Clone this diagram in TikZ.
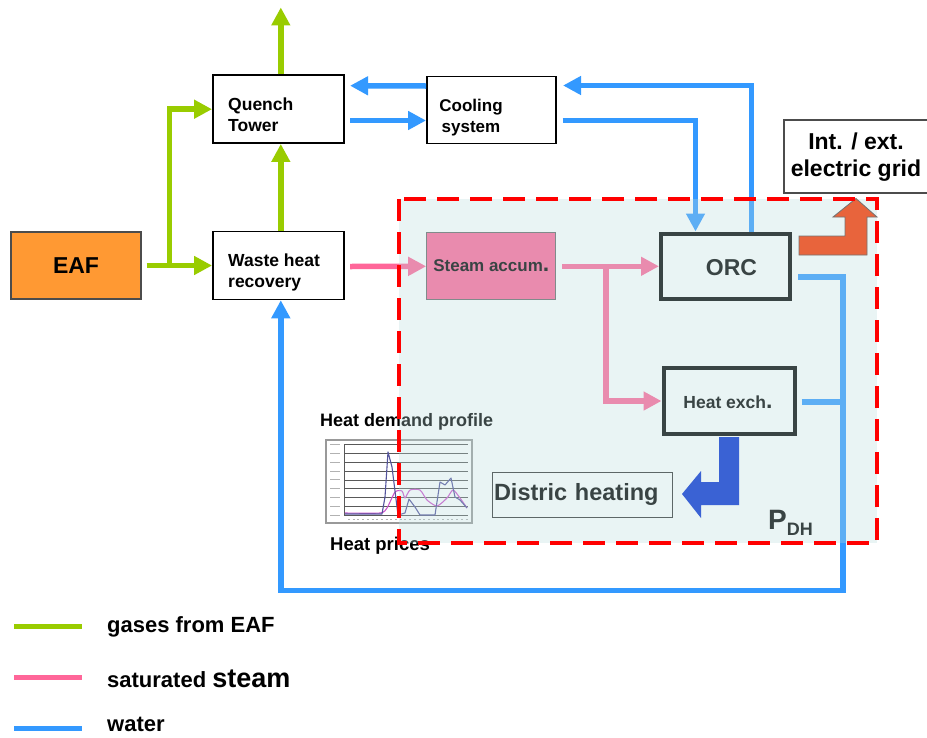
\documentclass[tikz,border=0pt]{standalone}
\usepackage{fontspec}
\setmainfont{Liberation Sans}
\usetikzlibrary{arrows.meta,calc}
\definecolor{grn}{HTML}{99CC00}
\definecolor{blu}{HTML}{3399FF}
\definecolor{pnk}{HTML}{FF6699}
\definecolor{eafc}{HTML}{FF9933}
\definecolor{ovl}{RGB}{187,222,222}
\definecolor{orng}{HTML}{E8643C}
\definecolor{dblu}{HTML}{3A62D4}
\definecolor{navyc}{HTML}{54549C}
\definecolor{magc}{HTML}{CC55CC}
\begin{document}
\begin{tikzpicture}[x=1pt,y=-1pt,
  box/.style={draw=black, line width=1.5pt, fill=white, minimum width=131pt, minimum height=68pt, inner sep=0pt},
  tbox/.style={draw=black, line width=4pt, minimum width=129pt, minimum height=65pt, inner sep=0pt},
  lbl/.style={inner sep=0pt, font=\bfseries\fontsize{17.5}{21}\selectfont, align=left},
  flowtip/.style={-{Triangle[length=18pt,width=18pt]}},
  gflow/.style={draw=grn, line width=5.5pt, flowtip},
  bflow/.style={draw=blu, line width=5.5pt, flowtip},
  bline/.style={draw=blu, line width=5.5pt},
  pflow/.style={draw=pnk, line width=5.5pt, flowtip},
  leg/.style={anchor=base west, inner sep=0pt, font=\bfseries\fontsize{22}{26}\selectfont},
]
\useasboundingbox (0,0) rectangle (927,737);
\fill[white] (0,0) rectangle (927,737);

% ---------- chart ----------
\fill[white] (326,440) rectangle (472,523);
\draw[black!40, line width=1.2pt] (326,440) rectangle (472,523);
\foreach \y in {444.3,453.2,462.1,471,479.9,488.8,497.7,506.6,515.5}{
  \draw[black!65, line width=0.7pt] (344,\y) -- (468,\y);
  \draw[black!30, line width=1pt] (330,\y) -- (340,\y);
}
\draw[black!65, line width=0.7pt] (344,444.3) -- (344,515.5);
\foreach \x in {348,352.7,...,466}{
  \draw[black!30, line width=1pt] (\x,519) -- (\x+2,519);
}
\draw[magc, line width=1.1pt, line join=round] plot[smooth, tension=0.4] coordinates {(345,513)(380,513)(387,508)(395,492)(402,491)(405,498)(410,490)(420,490)(427,500)(437,506)(447,498)(453,490)(460,498)(467,508)};
\draw[navyc, line width=1.1pt, line join=round] plot coordinates {(345,514)(382,514)(385,497)(388,452)(392,467)(398,515)(405,513)(409,499)(415,507)(420,515)(435,515)(440,482)(445,485)(451,478)(455,497)(460,500)(467,508)};
\node[anchor=base west, inner sep=0pt, font=\bfseries\fontsize{18}{20}\selectfont] (hdp) at (320,426) {Heat demand profile};
\node[anchor=base west, inner sep=0pt, font=\bfseries\fontsize{18.5}{20}\selectfont] (hpr) at (330,550) {Heat prices};

% ---------- boxes ----------
\node[box, fill=eafc, draw=black!70, line width=1.2pt, minimum width=130pt, minimum height=67pt,
      font=\bfseries\fontsize{23}{26}\selectfont] (eaf) at (76,265.5) {EAF};
\node[box] (qt) at (278.3,109.2) {};
\node[lbl, anchor=west] (qtl) at (228,114.8) {Quench\\Tower};
\node[box] (wh) at (278.3,265.5) {};
\node[lbl, anchor=west] (whl) at (228,272.5) {Waste heat\\recovery};
\node[box, minimum width=129pt, minimum height=67pt] (cs) at (491.3,110) {};
\node[lbl, align=center, font=\bfseries\fontsize{17}{20.5}\selectfont] (csl) at (471,117.6) {Cooling\\system};
\node[box, fill=pnk, draw=black!60, line width=1.2pt, minimum width=129pt, minimum height=67pt,
      font=\bfseries\fontsize{17}{18}\selectfont] (sa) at (491.3,266) {Steam accum{\fontsize{23}{22}\selectfont.}};
\node[tbox] (orc) at (725.5,266) {};
\node[inner sep=0pt, font=\bfseries\fontsize{23}{26}\selectfont] (orcl) at (731.5,267.6) {ORC};
\node[tbox, minimum width=131pt, minimum height=66pt] (hx) at (729,401) {};
\node[inner sep=0pt, font=\bfseries\fontsize{17.5}{18}\selectfont] (hxl) at (728,402) {Heat exch{\fontsize{23}{22}\selectfont.}};
\node[box, draw=black!70, minimum width=145pt, minimum height=73pt] (grid) at (856.5,156.5) {};
\node[inner sep=0pt, align=center, font=\bfseries\fontsize{23}{27}\selectfont] (gridl) at (856,157.5) {Int. / ext.\\electric grid};
\node[draw=black!80, line width=1pt, fill=white, text width=176pt, align=left, inner xsep=2pt, inner ysep=0pt,
      minimum height=45pt, font=\bfseries\fontsize{23.5}{26}\selectfont] (dh) at (582,494.5) {Distric heating};
\node[anchor=base west, inner sep=0pt, font=\bfseries\fontsize{28}{30}\selectfont] (pdh) at (768,529)
      {P\fontsize{18}{20}\selectfont\raisebox{-6pt}{DH}};

% ---------- gases ----------
\coordinate (gbr) at (169.5,265.5);
\coordinate (exh) at ($(qt.north)+(2.5,-67)$);
\draw[gflow] ($(eaf.east)+(5,0)$) -- (wh.west);
\draw[gflow] (gbr) |- (qt.west);
\draw[gflow] ($(wh.north)+(2.5,0)$) -- ($(qt.south)+(2.5,0)$);
\draw[gflow] ($(qt.north)+(2.5,0)$) -- (exh);

% ---------- water ----------
\draw[bflow] ($(cs.west)+(0,-24)$) -- ($(qt.east)+(5.5,-23.5)$);
\draw[bflow] ($(qt.east)+(5.5,11.3)$) -- ($(cs.west)+(0,10.5)$);
\draw[bflow] ($(orc.north)+(26.2,0)$) |- ($(cs.east)+(6.5,-24.5)$);
\draw[bflow] ($(cs.east)+(6,10.5)$) -| ($(orc.north)+(-30,0)$);
\coordinate (lr) at (843,590.5);
\draw[bflow] ($(orc.east)+(6,11)$) -| (lr) -| ($(wh.south)+(2.5,0)$);
\coordinate (hxo) at ($(hx.east)+(5,1)$);
\draw[bline] (hxo) -- (hxo -| lr);

% ---------- steam ----------
\coordinate (pbr) at (606,266.3);
\draw[pflow] ($(wh.east)+(5.5,1)$) -- ($(sa.west)+(0,0.3)$);
\draw[pflow] ($(sa.east)+(6,0.3)$) -- ($(orc.west)+(0,0.3)$);
\draw[pflow] (pbr) |- (hx.west);

% ---------- overlay of the PDH region ----------
\fill[ovl, fill opacity=0.31] (399,199) rectangle (877,543);

% ---------- block arrows ----------
\draw[draw=black!55, line width=0.8pt, fill=orng] (799,236) -- (845,236) -- (845,217) -- (833,217) -- (856,198.5)
  -- (877,217) -- (867,217) -- (867,255) -- (799,255) -- cycle;
\fill[dblu] (719,437) -- (739,437) -- (739,505) -- (701,505) -- (701,518) -- (682,494) -- (701,471) -- (701,482)
  -- (719,482) -- cycle;

% ---------- red dashed border ----------
\draw[red, line width=3.5pt, dash pattern=on 22pt off 11pt] (399,199) rectangle (877,543);

% ---------- legend ----------
\coordinate (lg1a) at (14,626); \coordinate (lg1b) at (82,626);
\coordinate (lg2a) at (14,677); \coordinate (lg2b) at (82,677);
\coordinate (lg3a) at (14,728); \coordinate (lg3b) at (82,728);
\draw[grn, line width=5pt] (lg1a) -- (lg1b);
\draw[pnk, line width=5pt] (lg2a) -- (lg2b);
\draw[blu, line width=5pt] (lg3a) -- (lg3b);
\node[leg] (leg1) at (107,632) {gases from EAF};
\node[leg] (leg2) at (107,687) {saturated {\fontsize{27}{30}\selectfont steam}};
\node[leg] (leg3) at (107,731) {water};
\end{tikzpicture}
\end{document}
